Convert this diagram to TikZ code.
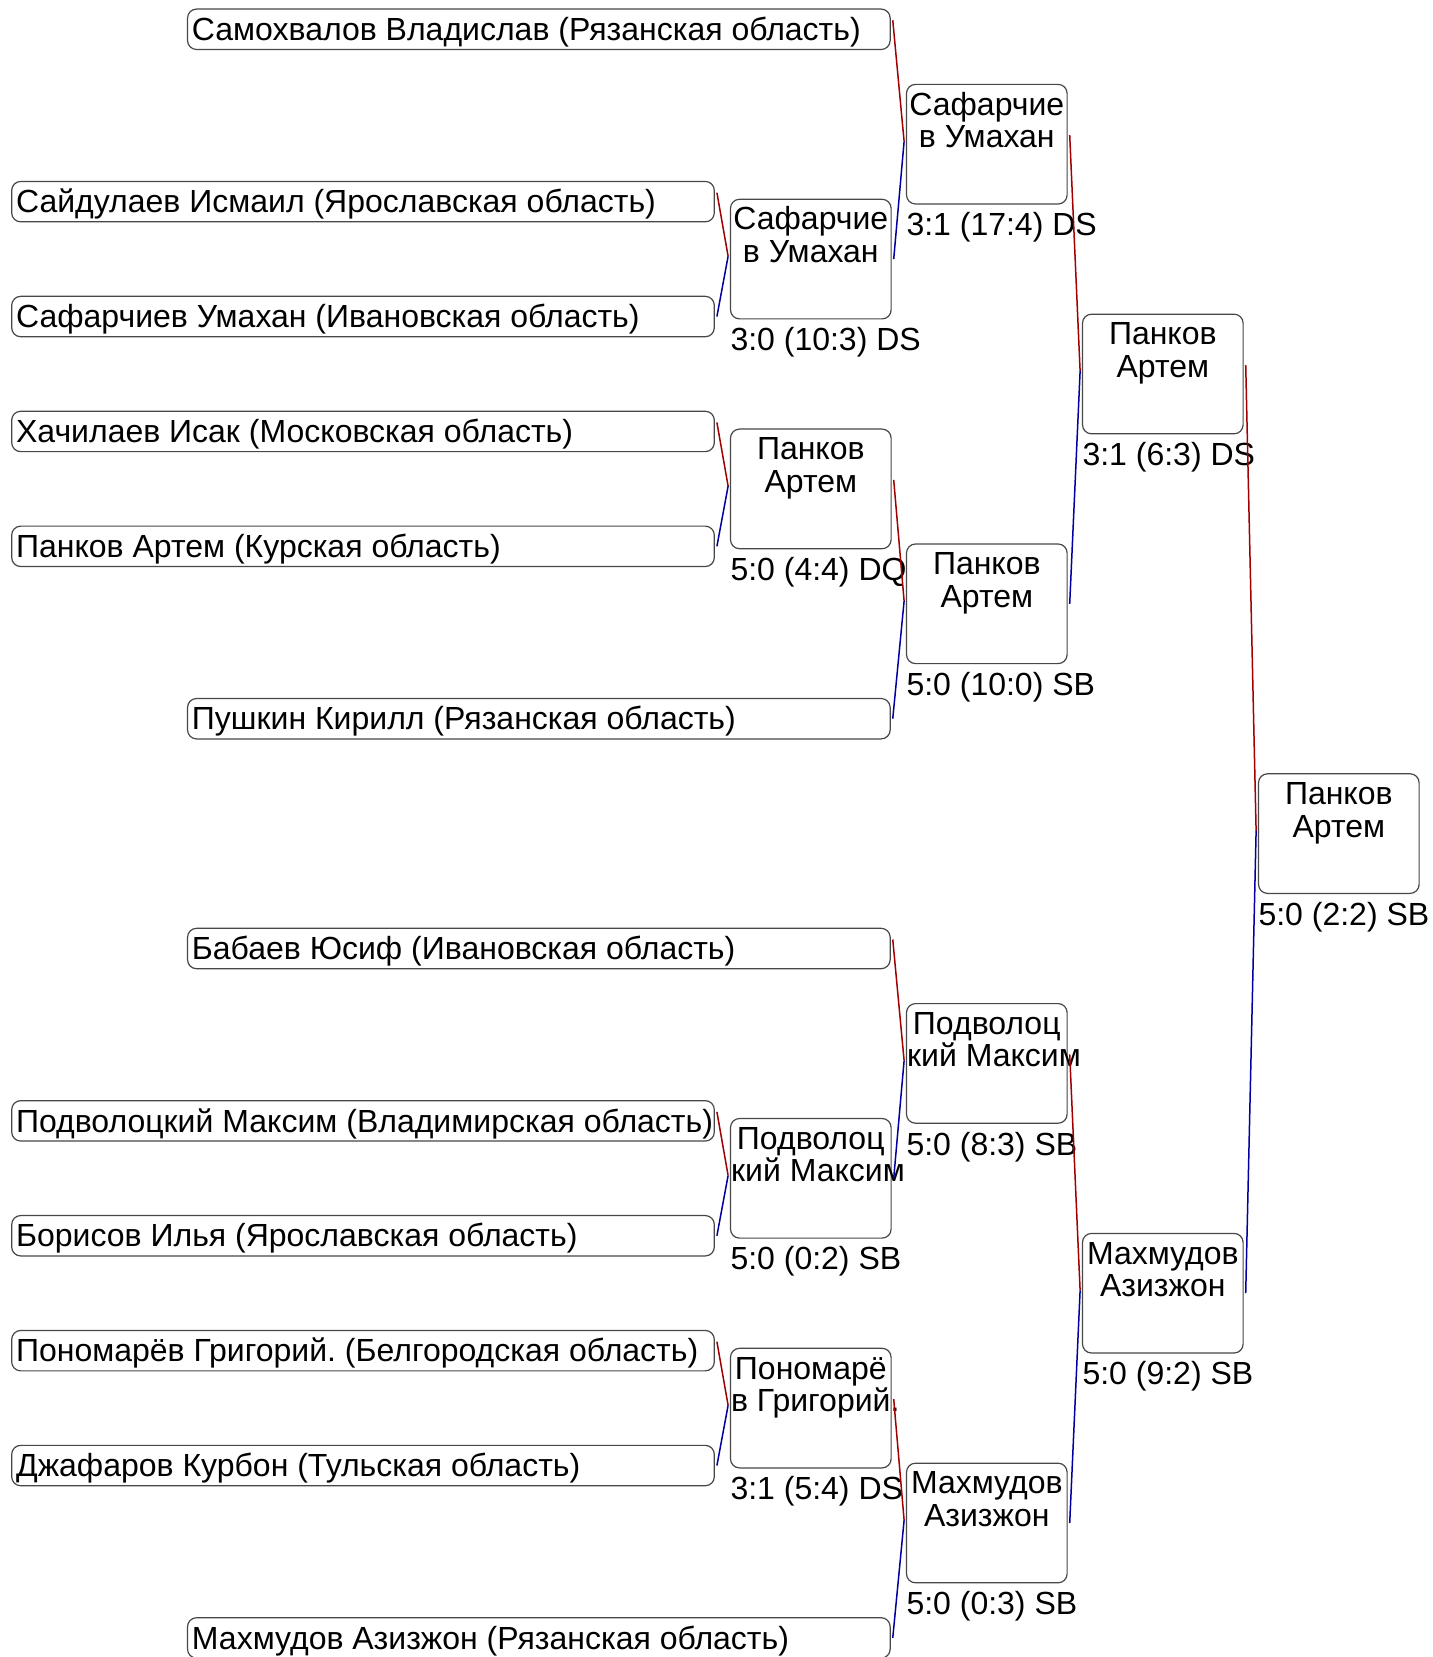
\documentclass[tikz,border=0pt]{standalone}
\usepackage{fontspec}
\setmainfont{Liberation Sans}
\frenchspacing
\begin{document}
\begin{tikzpicture}[x=0.5pt,y=-0.5pt,
  every node/.style={outer sep=0pt},
  entry/.style={draw=black!72, line width=0.6pt, rounded corners=4.5pt, minimum width=351.3pt, minimum height=20.2pt, inner sep=0pt},
  matchbox/.style={draw=black!72, line width=0.6pt, rounded corners=4.5pt, minimum width=80.3pt, minimum height=59.8pt, inner sep=0pt},
  txt/.style={inner sep=0pt, font=\fontsize{16pt}{16.35pt}\selectfont},
  win/.style={draw={rgb,255:red,160;green,0;blue,0}, line width=0.75pt},
  lose/.style={draw={rgb,255:red,0;green,0;blue,160}, line width=0.75pt}
]
\path[use as bounding box, clip] (0,0) rectangle (1432,1657);

% ---- entry boxes ----
\node[entry] (e1)  at (538.85,29.3)   {};
\node[entry] (e2)  at (363,201.65)    {};
\node[entry] (e3)  at (363,316.55)    {};
\node[entry] (e4)  at (363,431.45)    {};
\node[entry] (e5)  at (363,546.35)    {};
\node[entry] (e6)  at (538.85,718.7)  {};
\node[entry] (e7)  at (538.85,948.5)  {};
\node[entry] (e8)  at (363,1120.85)   {};
\node[entry] (e9)  at (363,1235.75)   {};
\node[entry] (e10) at (363,1350.65)   {};
\node[entry] (e11) at (363,1465.55)   {};
\node[entry] (e12) at (538.85,1637.9) {};

\foreach \n/\t in {e1/{Самохвалов Владислав (Рязанская область)},
  e2/{Сайдулаев Исмаил (Ярославская область)},
  e3/{Сафарчиев Умахан (Ивановская область)},
  e4/{Хачилаев Исак (Московская область)},
  e5/{Панков Артем (Курская область)},
  e6/{Пушкин Кирилл (Рязанская область)},
  e7/{Бабаев Юсиф (Ивановская область)},
  e8/{Подволоцкий Максим (Владимирская область)},
  e9/{Борисов Илья (Ярославская область)},
  e10/{Пономарёв Григорий. (Белгородская область)},
  e11/{Джафаров Курбон (Тульская область)},
  e12/{Махмудов Азизжон (Рязанская область)}}
  \node[txt, anchor=base west] (\n-t) at ([xshift=2.2pt,yshift=-5.6pt]\n.west) {\t};

% ---- match boxes ----
\node[matchbox] (r1a) at (810.8,259.1)  {};
\node[matchbox] (r1b) at (810.8,488.9)  {};
\node[matchbox] (r1c) at (810.8,1178.3) {};
\node[matchbox] (r1d) at (810.8,1408.1) {};
\node[matchbox] (r2a) at (986.8,144.2)  {};
\node[matchbox] (r2b) at (986.8,603.8)  {};
\node[matchbox] (r2c) at (986.8,1063.4) {};
\node[matchbox] (r2d) at (986.8,1523.0) {};
\node[matchbox] (r3a) at (1162.8,374.0) {};
\node[matchbox] (r3b) at (1162.8,1293.2) {};
\node[matchbox] (r4)  at (1338.8,833.6) {};

% centered lines
\foreach \n/\a/\b in {r1a/Сафарчие/{в Умахан}, r1b/Панков/Артем,
  r2a/Сафарчие/{в Умахан}, r2b/Панков/Артем, r2d/Махмудов/Азизжон,
  r3a/Панков/Артем, r3b/Махмудов/Азизжон, r4/Панков/Артем}{
  \node[txt, anchor=base] (\n-l1) at ([yshift=-15.35pt]\n.north) {\a};
  \node[txt, anchor=base] (\n-l2) at ([yshift=-31.6pt]\n.north) {\b};
}
% boxes whose second line overflows
\foreach \n/\a/\b in {r1c/Подволоц/{кий Максим}, r2c/Подволоц/{кий Максим}, r1d/Пономарё/{в Григорий.}}{
  \node[txt, anchor=base] (\n-l1) at ([yshift=-15.35pt]\n.north) {\a};
  \node[txt, anchor=base west] (\n-l2) at ([xshift=0.3pt,yshift=-31.6pt]\n.north west) {\b};
}
% scores
\foreach \n/\s in {r1a/{3:0 (10:3) DS}, r1b/{5:0 (4:4) DQ}, r1c/{5:0 (0:2) SB}, r1d/{3:1 (5:4) DS},
  r2a/{3:1 (17:4) DS}, r2b/{5:0 (10:0) SB}, r2c/{5:0 (8:3) SB}, r2d/{5:0 (0:3) SB},
  r3a/{3:1 (6:3) DS}, r3b/{5:0 (9:2) SB}, r4/{5:0 (2:2) SB}}
  \node[txt, anchor=base west] (\n-s) at ([yshift=-15.9pt]\n.south west) {\s};

% ---- connectors ----
\foreach \u/\l/\p in {e2/e3/r1a, e4/e5/r1b, e8/e9/r1c, e10/e11/r1d,
  e1/r1a/r2a, r1b/e6/r2b, e7/r1c/r2c, r1d/e12/r2d,
  r2a/r2b/r3a, r2c/r2d/r3b, r3a/r3b/r4}{
  \coordinate (\p-j) at ([xshift=-1.2pt,yshift=1.4pt]\p.west);
  \draw[win]  ([xshift=1.3pt,yshift=4.5pt]\u.east) -- (\p-j);
  \draw[lose] ([xshift=1.3pt]\l.east) -- (\p-j);
}
\end{tikzpicture}
\end{document}
